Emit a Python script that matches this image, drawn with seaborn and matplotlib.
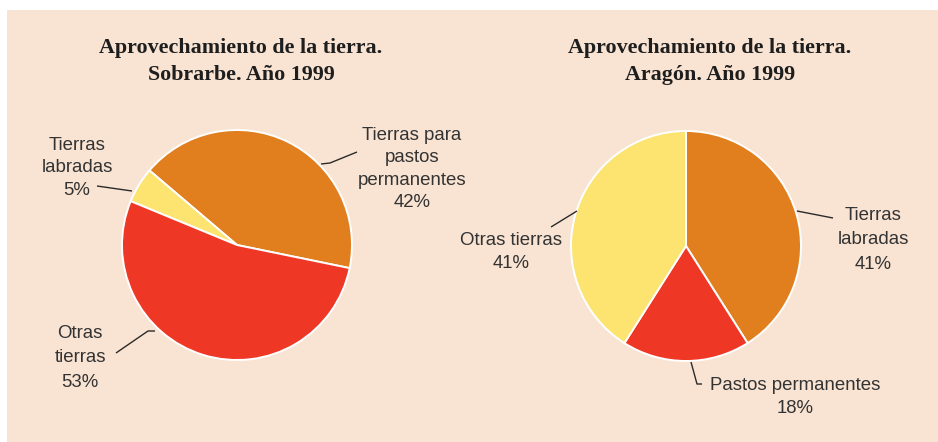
import matplotlib
matplotlib.use("Agg")
import matplotlib.pyplot as plt
from matplotlib.patches import Rectangle
import seaborn as sns

# ---- data ----
left_labels = ["Tierras para\npastos\npermanentes", "Tierras\nlabradas", "Otras\ntierras"]
left_values = [42, 5, 53]
right_labels = ["Tierras\nlabradas", "Pastos permanentes", "Otras tierras"]
right_values = [41, 18, 41]
left_title = "Aprovechamiento de la tierra.\nSobrarbe. Año 1999"
right_title = "Aprovechamiento de la tierra.\nAragón. Año 1999"

ORANGE = "#e17e1e"
RED = "#ef3726"
YELLOW = "#fde36f"
BG = "#f9e4d3"
TXT = "#333333"

left_colors = [ORANGE, YELLOW, RED]
right_colors = [ORANGE, RED, YELLOW]

sns.set_theme(style="white")
plt.rcParams['font.family'] = ['Liberation Sans', 'DejaVu Sans']

W, H = 938, 442
fig = plt.figure(figsize=(W / 100, H / 100), dpi=100)
fig.patch.set_facecolor("white")
fig.patches.append(Rectangle((7 / W, 0), (W - 7) / W, (H - 10) / H,
                             transform=fig.transFigure, facecolor=BG,
                             edgecolor="none", zorder=-10))

R = 115.0


def make_axes(cx, cy):
    ax = fig.add_axes([(cx - R) / W, (H - cy - R) / H, 2 * R / W, 2 * R / H])
    ax.set_xlim(-1, 1)
    ax.set_ylim(-1, 1)
    ax.set_aspect("equal")
    ax.axis("off")
    ax.patch.set_alpha(0)
    return ax


def px(ax_c, x, y):
    cx, cy = ax_c
    return (x - cx) / R, (cy - y) / R


LC = (237, 245)
RC = (686, 246)
axL = make_axes(*LC)
axR = make_axes(*RC)

wp = dict(edgecolor="white", linewidth=1.4)
axL.pie(left_values, colors=left_colors, startangle=-11.6, counterclock=True,
        radius=1, wedgeprops=wp)
axR.pie(right_values, colors=right_colors, startangle=90, counterclock=False,
        radius=1, wedgeprops=wp)
axL.set_xlim(-1, 1); axL.set_ylim(-1, 1)
axR.set_xlim(-1, 1); axR.set_ylim(-1, 1)

FS = 13.4
LS = 1.42


def label(ax, c, text, val, x, y, ls=LS):
    xx, yy = px(c, x, y)
    ax.text(xx, yy, f"{text}\n{val}%", ha="center", va="center", fontsize=FS,
            color=TXT, linespacing=ls, clip_on=False)


def leader(ax, c, pts):
    xs, ys = zip(*[px(c, x, y) for x, y in pts])
    ax.plot(xs, ys, color="#2a2a2a", lw=1.0, clip_on=False, solid_capstyle="butt")


label(axL, LC, left_labels[0], left_values[0], 412, 169)
label(axL, LC, left_labels[1], left_values[1], 77, 168)
label(axL, LC, left_labels[2], left_values[2], 80, 358, ls=1.6)
leader(axL, LC, [(321, 164), (330, 163), (357, 152)])
leader(axL, LC, [(97, 186), (132, 191)])
leader(axL, LC, [(116, 353), (148, 331), (155, 331)])

label(axR, RC, right_labels[0], right_values[0], 873, 240, ls=1.55)
label(axR, RC, right_labels[1], right_values[1], 795, 397, ls=1.5)
label(axR, RC, right_labels[2], right_values[2], 511, 252, ls=1.45)
leader(axR, RC, [(797, 211), (833, 218)])
leader(axR, RC, [(691, 362), (697, 384), (702, 384)])
leader(axR, RC, [(551, 227), (577, 211)])

tkw = dict(ha="center", va="center", fontsize=15.8, fontweight="bold",
           family=["Liberation Serif", "DejaVu Serif"], color="#1e1e1e",
           linespacing=1.5)
fig.text(241 / W, 1 - 61.5 / H, left_title, **tkw)
fig.text(710 / W, 1 - 61.5 / H, right_title, **tkw)

fig.savefig("out.png", dpi=100, facecolor=fig.get_facecolor())
